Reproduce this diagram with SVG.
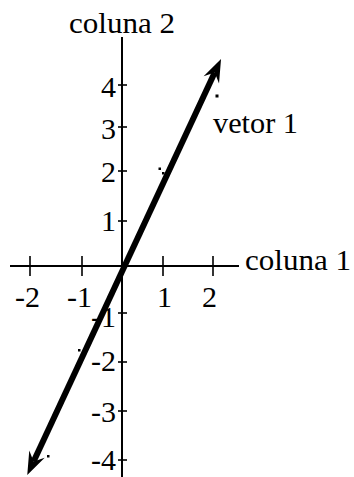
<svg xmlns="http://www.w3.org/2000/svg" width="354" height="477" viewBox="0 0 354 477">
<style>
text{font-family:"Liberation Serif","Times New Roman",serif;font-size:30px;fill:#000}
.ax{stroke:#000;stroke-width:2;fill:none}
.tk{stroke:#000;stroke-width:1.6;fill:none}
.yl{text-anchor:end}
.vec{stroke:#000;stroke-width:6;fill:none}
.pt{fill:#000}
</style>
<defs>
<marker id="ah" markerUnits="userSpaceOnUse" markerWidth="40" markerHeight="40" refX="0" refY="0" viewBox="-20 -20 40 40" orient="auto-start-reverse" overflow="visible">
<path d="M15,0 L-8,-8.5 L0,0 L-8,8.5 Z" fill="#000"/>
</marker>
</defs>
<g id="axes">
<line class="ax" x1="122" y1="37" x2="122" y2="477"/>
<line class="ax" x1="10" y1="266" x2="239" y2="266"/>
</g>
<g id="ticks">
<line class="tk" x1="118" y1="85" x2="127" y2="85"/>
<line class="tk" x1="118" y1="127" x2="127" y2="127"/>
<line class="tk" x1="118" y1="171" x2="127" y2="171"/>
<line class="tk" x1="118" y1="221" x2="127" y2="221"/>
<line class="tk" x1="118" y1="313" x2="127" y2="313"/>
<line class="tk" x1="118" y1="362" x2="127" y2="362"/>
<line class="tk" x1="118" y1="411" x2="127" y2="411"/>
<line class="tk" x1="118" y1="460" x2="127" y2="460"/>
<line class="tk" x1="30" y1="256" x2="30" y2="276"/>
<line class="tk" x1="82" y1="256" x2="82" y2="276"/>
<line class="tk" x1="163" y1="256" x2="163" y2="276"/>
<line class="tk" x1="213" y1="256" x2="213" y2="276"/>
</g>
<g id="y-labels">
<text class="yl" x="116" y="97">4</text>
<text class="yl" x="116" y="139">3</text>
<text class="yl" x="116" y="182">2</text>
<text class="yl" x="116" y="231">1</text>
<text class="yl" x="116" y="327">-1</text>
<text class="yl" x="116" y="371">-2</text>
<text class="yl" x="116" y="422">-3</text>
<text class="yl" x="116" y="470">-4</text>
</g>
<g id="x-labels">
<text x="15" y="307">-2</text>
<text x="67" y="307">-1</text>
<text x="157" y="307">1</text>
<text x="202" y="307">2</text>
</g>
<g id="axis-titles">
<text id="coluna2" x="69" y="33" textLength="106" lengthAdjust="spacingAndGlyphs">coluna 2</text>
<text id="coluna1" x="245" y="270" textLength="106" lengthAdjust="spacingAndGlyphs">coluna 1</text>
</g>
<g id="points">
<rect class="pt" x="215.5" y="94.5" width="3" height="3"/>
<rect class="pt" x="158.5" y="167.5" width="2.5" height="2.5"/>
<rect class="pt" x="162" y="172" width="2.5" height="2.5"/>
<rect class="pt" x="78" y="349" width="2.5" height="2.5"/>
<rect class="pt" x="47" y="455" width="2.5" height="2.5"/>
</g>
<g id="connectors">
<line class="vec" x1="33.6" y1="461.4" x2="214.7" y2="72.6" marker-start="url(#ah)" marker-end="url(#ah)"/>
</g>
<g id="vetor1">
<text x="213" y="133" textLength="85" lengthAdjust="spacingAndGlyphs">vetor 1</text>
</g>
</svg>
